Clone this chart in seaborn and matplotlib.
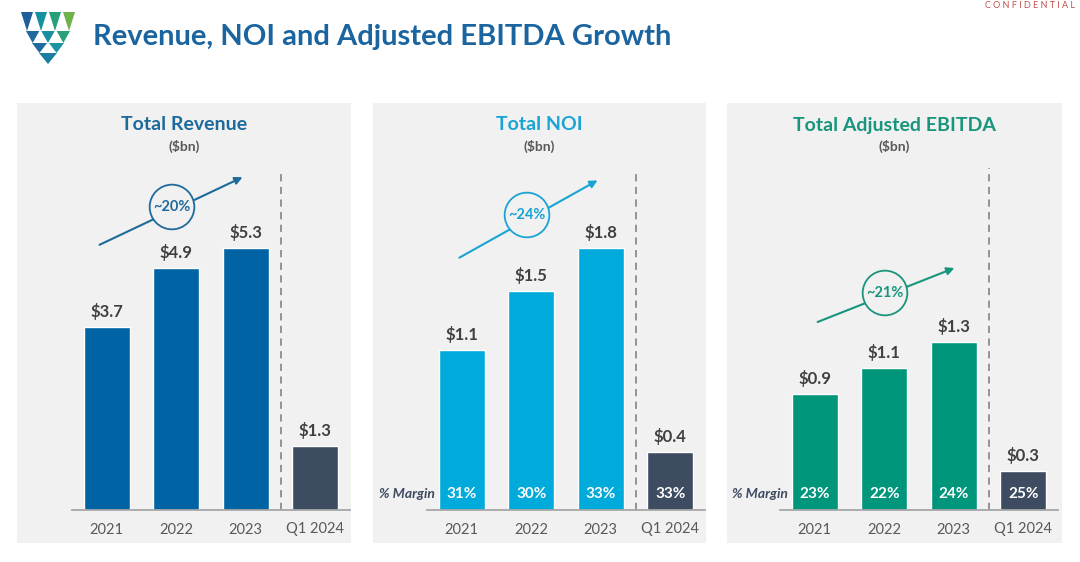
import matplotlib
matplotlib.use("Agg")
import matplotlib.pyplot as plt
import matplotlib.transforms as mtransforms
from matplotlib.patches import Rectangle, Polygon, FancyArrowPatch
import pandas as pd
import seaborn as sns

# ---------- data ----------
periods = ["2021", "2022", "2023", "Q1 2024"]
revenue = [3.7, 4.9, 5.3, 1.3]
noi = [1.1, 1.5, 1.8, 0.4]
ebitda = [0.9, 1.1, 1.3, 0.3]
noi_margin = ["31%", "30%", "33%", "33%"]
ebitda_margin = ["23%", "22%", "24%", "25%"]
panel_titles = ["Total Revenue", "Total NOI", "Total Adjusted EBITDA"]
growth_labels = ["~20%", "~24%", "~21%"]

W, H = 1080, 562
PANEL_BG = "#f1f1f1"
Q1_COLOR = "#3e4c62"

sns.set_theme(style="white")
plt.rcParams["font.family"] = ["Lato", "DejaVu Sans"]

fig = plt.figure(figsize=(W / 100, H / 100), dpi=100)
fig.patch.set_facecolor("white")


def fx(x):
    return x / W


def fy(y):
    return 1 - y / H


panels = [
    dict(values=revenue, margins=None, color="#0063a3", title_color="#1d6a9b",
         ax_left=72, box=(17, 351), ymax=7.29, dash_top=172,
         arrow=((97, 246), (245, 176)), circle=(172, 207)),
    dict(values=noi, margins=noi_margin, color="#00abdb", title_color="#19a4d4",
         ax_left=427, box=(373, 706), ymax=2.47, dash_top=170,
         arrow=((457, 259), (600, 179)), circle=(527, 215)),
    dict(values=ebitda, margins=ebitda_margin, color="#00967b", title_color="#18957c",
         ax_left=780, box=(727, 1062), ymax=2.79, dash_top=168,
         arrow=((815, 323), (957, 267)), circle=(885, 293)),
]

for i, p in enumerate(panels):
    # grey panel background
    x0, x1 = p["box"]
    fig.add_artist(Rectangle((fx(x0), fy(543)), fx(x1 - x0), (543 - 103) / H,
                             transform=fig.transFigure, facecolor=PANEL_BG,
                             edgecolor="none", zorder=-2))

    ax = fig.add_axes([fx(p["ax_left"]), fy(510), 278 / W, 360 / H])
    ax.set_facecolor("none")
    df = pd.DataFrame({"period": periods, "value": p["values"]})
    pal = {k: p["color"] for k in periods[:3]}
    pal["Q1 2024"] = Q1_COLOR
    sns.barplot(data=df, x="period", y="value", hue="period", palette=pal,
                legend=False, width=0.66, saturation=1, ax=ax)
    for cont, v in zip(ax.containers, p["values"]):
        ax.bar_label(cont, labels=[f"${v:.1f}"], padding=5, fontsize=12,
                     fontweight="bold", color="#404040")
    ax.set_ylim(0, p["ymax"])
    ax.set_xlim(-0.5, 3.5)
    ax.set_xlabel("")
    ax.set_ylabel("")
    ax.set_yticks([])
    for s in ["left", "top", "right"]:
        ax.spines[s].set_visible(False)
    ax.spines["bottom"].set_color("#a6a6a6")
    ax.spines["bottom"].set_linewidth(1.3)
    ax.tick_params(axis="x", length=0, pad=9, labelsize=10.5, labelcolor="#595959")

    ax.axvline(2.5, ymin=0, ymax=(510 - p["dash_top"]) / 360, color="#8c8c8c",
               lw=1.3, ls=(0, (4, 3)))

    if p["margins"]:
        trans = mtransforms.blended_transform_factory(ax.transData, ax.transAxes)
        for j, m in enumerate(p["margins"]):
            ax.text(j, 0.044, m, transform=trans, ha="center", va="center",
                    fontsize=11, fontweight="bold", color="white")
        ax.text(-0.38, 0.044, "% Margin", transform=trans, ha="right", va="center",
                fontsize=10, fontweight="bold", fontstyle="italic", color=Q1_COLOR)

    # titles
    cx = (x0 + x1) / 2
    fig.text(fx(cx), fy(125), panel_titles[i], ha="center", va="center",
             fontsize=14, fontweight="bold", color=p["title_color"])
    fig.text(fx(cx), fy(146), "($bn)", ha="center", va="center",
             fontsize=10, fontweight="bold", color="#595959")

    # growth arrow + circle
    (ax0, ay0), (ax1, ay1) = p["arrow"]
    fig.add_artist(FancyArrowPatch((fx(ax0), fy(ay0)), (fx(ax1), fy(ay1)),
                                   transform=fig.transFigure, arrowstyle="-|>",
                                   mutation_scale=11, lw=1.5, color=p["title_color"],
                                   zorder=4))
    ccx, ccy = p["circle"]
    fig.text(fx(ccx), fy(ccy), growth_labels[i], ha="center", va="center",
             fontsize=10.5, fontweight="bold", color=p["title_color"], zorder=5,
             bbox=dict(boxstyle="circle,pad=0.25", fc=PANEL_BG,
                       ec=p["title_color"], lw=1.3))

# header
fig.text(fx(93), fy(37), "Revenue, NOI and Adjusted EBITDA Growth", ha="left",
         va="center", fontsize=21, fontweight="bold", color="#1a64a0")
fig.text(fx(1075), fy(6), "C O N F I D E N T I A L", ha="right", va="center",
         fontsize=6.5, color="#c0504d")

# logo: rows of downward triangles in a shield shape
logo_rows = [
    (12, 31, 20, 76, ["#1f5f9a", "#168f9f", "#26a07a", "#6db24a"]),
    (31, 43, 25, 71, ["#1f6a9e", "#1a8fa0", "#2ba07c"]),
    (43, 53, 31, 65, ["#1f6a9e", "#1a94a0"]),
    (53, 64, 38, 58, ["#1b7ea0"]),
]
for y0, y1, xl, xr, cols in logo_rows:
    n = len(cols)
    w = (xr - xl) / n
    for k, c in enumerate(cols):
        a = xl + k * w
        fig.add_artist(Polygon([(fx(a + 1), fy(y0)), (fx(a + w - 1), fy(y0)),
                                (fx(a + w / 2), fy(y1))], closed=True,
                               transform=fig.transFigure, facecolor=c,
                               edgecolor="none"))

fig.savefig("out.png", dpi=100)
